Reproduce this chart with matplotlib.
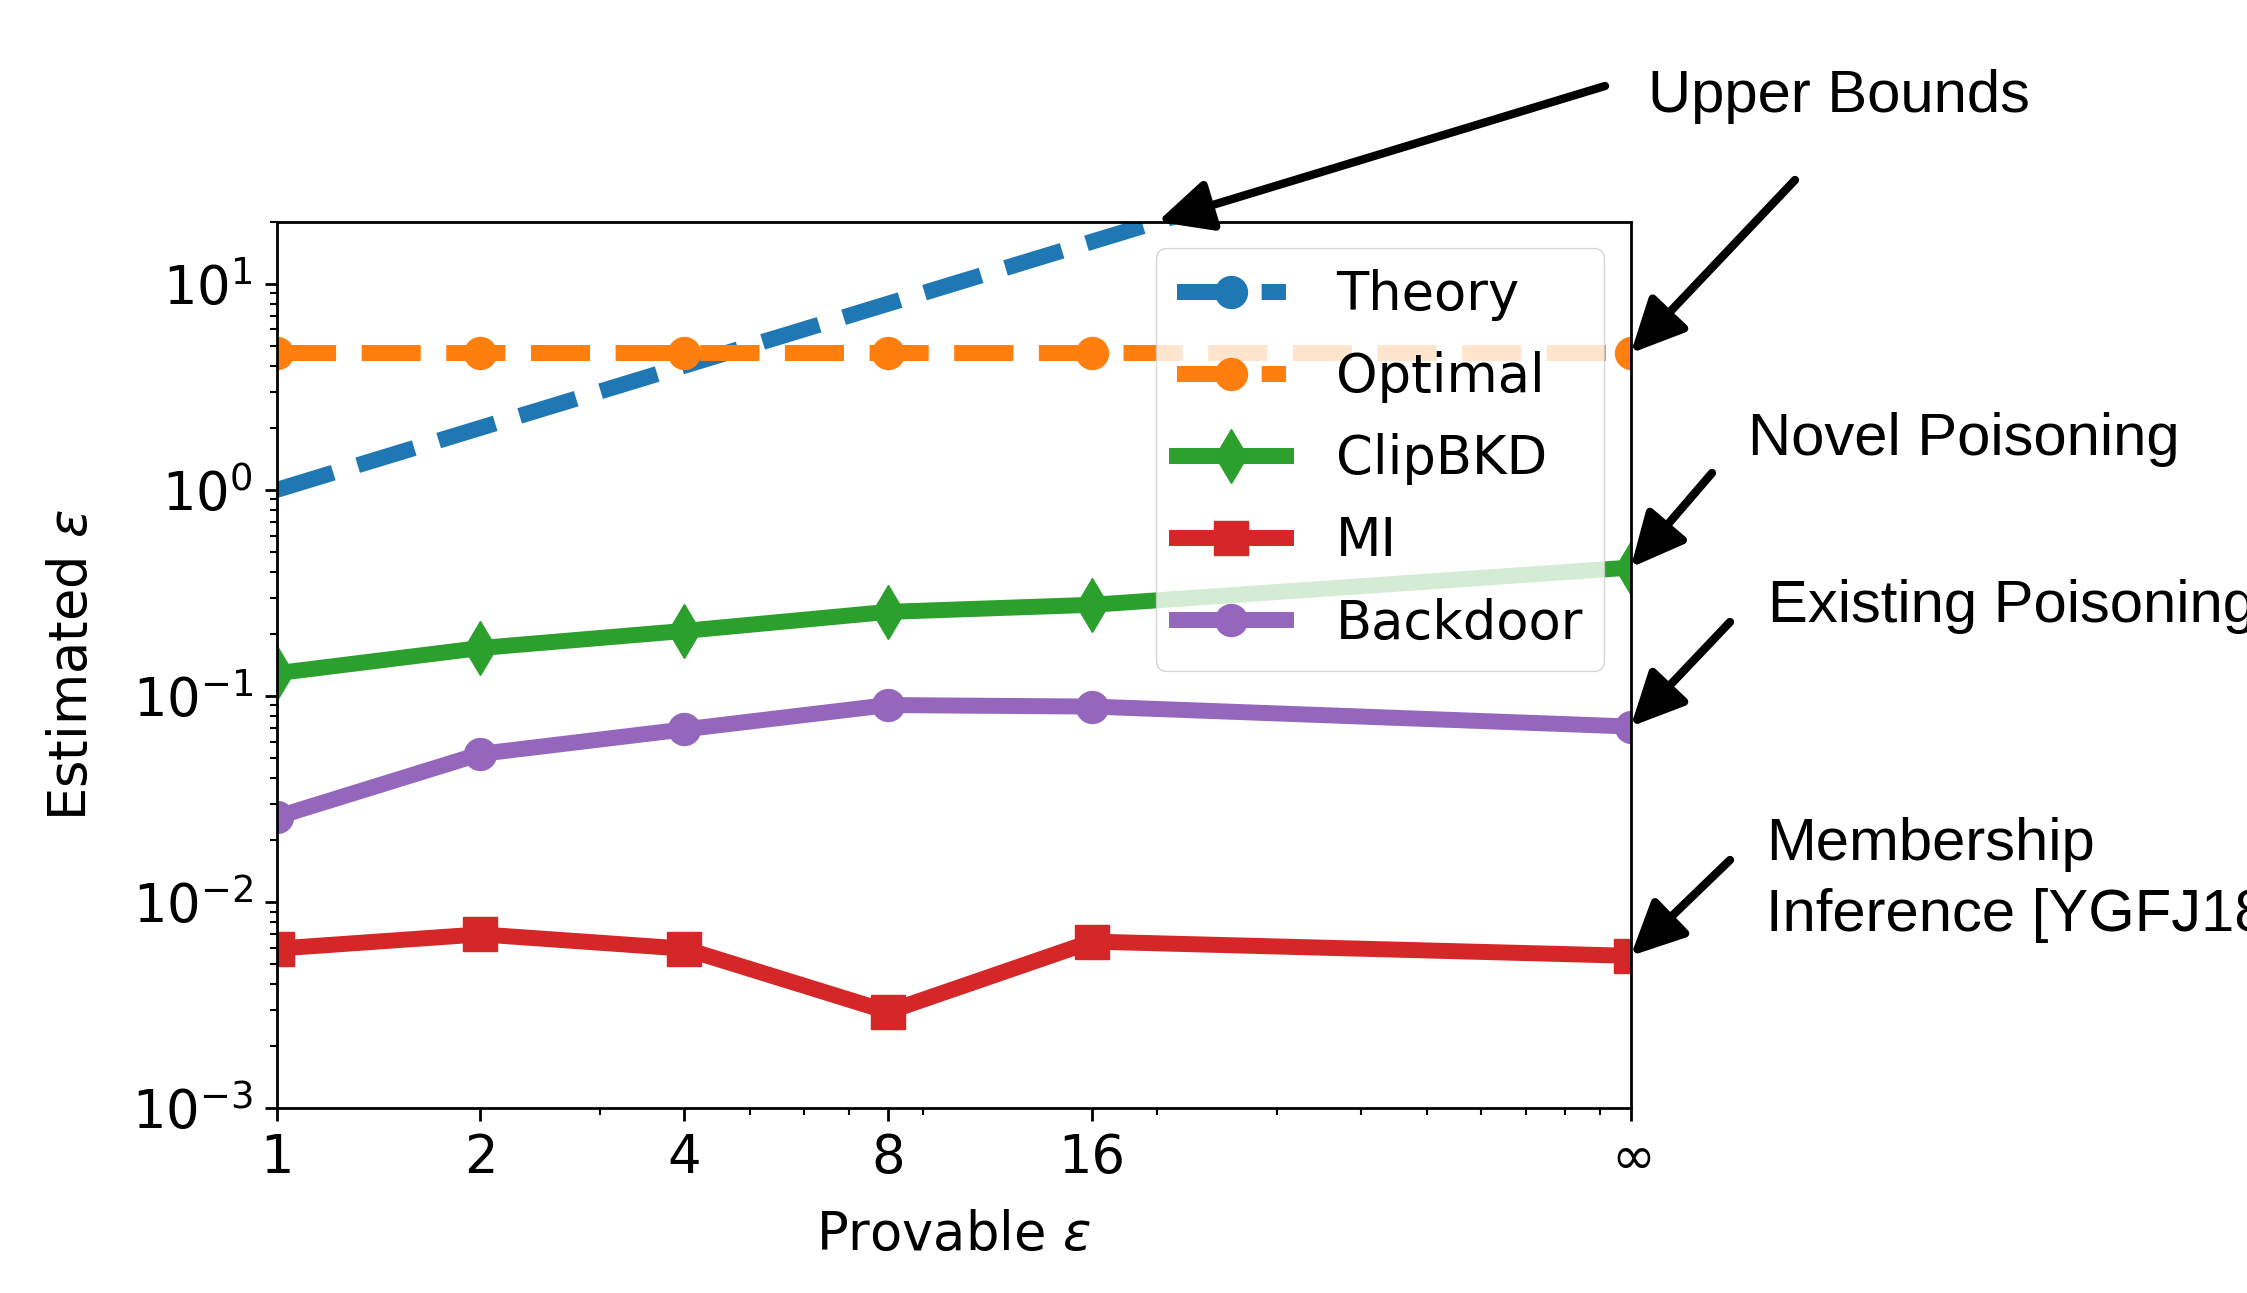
import matplotlib
matplotlib.use("Agg")
import matplotlib.pyplot as plt
from matplotlib.ticker import NullFormatter

# provable epsilon (infinity drawn at 100)
eps_provable = [1, 2, 4, 8, 16, 100]
eps_labels = ["1", "2", "4", "8", "16", r"$\infty$"]

theory = [1, 2, 4, 8, 16, 100]
optimal = [4.6, 4.6, 4.6, 4.6, 4.6, 4.6]
clipbkd = [0.129, 0.171, 0.207, 0.256, 0.277, 0.42]
mi = [0.00595, 0.00698, 0.00595, 0.00294, 0.00644, 0.00549]
backdoor = [0.0259, 0.0524, 0.0689, 0.0904, 0.0889, 0.0711]

W, H = 2247, 1293


def px(x, y):
    # image pixel (top-left origin) -> figure fraction
    return x / W, 1 - y / H


plt.rcParams["font.family"] = ["DejaVu Sans"]
plt.rcParams["mathtext.fontset"] = "dejavusans"

fig = plt.figure(figsize=(W / 100, H / 100), dpi=100)
ax = fig.add_axes([276.7 / W, 1 - 1108.3 / H, 1354 / W, 886.6 / H])

lw = 11.5
ax.plot(eps_provable, theory, "--o", color="C0", lw=lw, ms=23, markevery=[5], label="Theory")
ax.plot(eps_provable, optimal, "--o", color="C1", lw=lw, ms=23, label="Optimal")
ax.plot(eps_provable, clipbkd, "-d", color="C2", lw=lw, ms=27, label="ClipBKD")
ax.plot(eps_provable, mi, "-s", color="C3", lw=lw, ms=25, label="MI")
ax.plot(eps_provable, backdoor, "-o", color="C4", lw=lw, ms=23, label="Backdoor")

ax.set_xscale("log")
ax.set_yscale("log")
ax.set_xlim(1, 100)
ax.set_ylim(1e-3, 20)
ax.set_xticks(eps_provable)
ax.set_xticklabels(eps_labels)
ax.xaxis.set_minor_formatter(NullFormatter())

ax.tick_params(which="major", labelsize=38, length=9, width=2, pad=8)
ax.tick_params(which="minor", length=5, width=1.5)
for s in ax.spines.values():
    s.set_linewidth(2)

ax.set_xlabel(r"Provable $\varepsilon$", fontsize=38)
ax.set_ylabel(r"Estimated $\varepsilon$", fontsize=38)
ax.xaxis.set_label_coords(0.5, -0.114)
ax.yaxis.set_label_coords(-0.132, 0.5)

ax.legend(loc="upper right", fontsize=38, handlelength=2.05, handletextpad=0.95,
          labelspacing=0.57)

# annotations outside the axes
afont = dict(family="Liberation Sans", fontsize=43, va="baseline", ha="left")
fig.text(*px(1648, 112), "Upper Bounds", **afont)
fig.text(*px(1748, 455), "Novel Poisoning", **afont)
fig.text(*px(1768, 622), "Existing Poisoning", **afont)
fig.text(*px(1766, 860), "Membership", **afont)
fig.text(*px(1766, 931), "Inference [YGFJ18]", **afont)

arrow = dict(arrowstyle="-|>,head_length=1.25,head_width=0.6", mutation_scale=26,
             lw=6, color="black", shrinkA=0, shrinkB=0)
targets = [
    ((20, 20), (1605, 86)),
    ((eps_provable[-1], optimal[-1]), (1795, 180)),
    ((eps_provable[-1], clipbkd[-1]), (1712, 473)),
    ((eps_provable[-1], backdoor[-1]), (1730, 622)),
    ((eps_provable[-1], mi[-1]), (1730, 860)),
]
for xy, tail in targets:
    ax.annotate("", xy=xy, xycoords="data", xytext=px(*tail), textcoords="figure fraction",
                arrowprops=arrow, annotation_clip=False)

fig.savefig("out.png", dpi=100)
